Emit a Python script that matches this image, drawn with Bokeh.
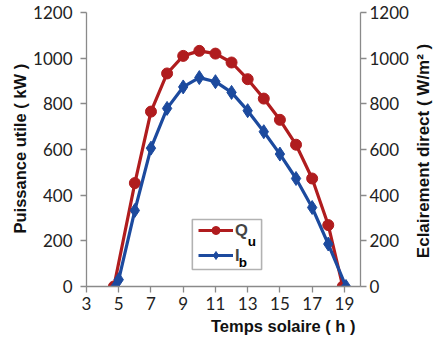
import math
from bokeh.plotting import figure
from bokeh.models import (Range1d, LinearAxis, Legend, LegendItem, Label, FixedTicker,
                          BoxAnnotation, Title)
from bokeh.embed import file_html
from bokeh.resources import INLINE

# Data
hours_q = [4.7, 6, 7, 8, 9, 10, 11, 12, 13, 14, 15, 16, 17, 18, 18.9]
qu = [0, 453, 766, 933, 1010, 1032, 1020, 981, 908, 823, 730, 621, 473, 269, 0]
hours_i = [4.8, 5, 6, 7, 8, 9, 10, 11, 12, 13, 14, 15, 16, 17, 18, 19.1]
ib = [0, 30, 333, 606, 780, 874, 915, 897, 850, 770, 678, 580, 473, 346, 186, 0]
x_ticks = [3, 5, 7, 9, 11, 13, 15, 17, 19]
y_ticks = [0, 200, 400, 600, 800, 1000, 1200]

RED = "#B01C1E"
BLUE = "#1C4A9E"
AXIS = "#8A8A8A"
TICKFONT = "Lato"
TITLEFONT = "Liberation Sans"

W, H = 445, 338
BL, BT = 86, 12
FW, FH = 277, 274
BR, BB = W - BL - FW, H - BT - FH
X0, X1, Y0, Y1 = 3, 20, 0, 1200

p = figure(width=W, height=H, output_backend="svg", toolbar_location=None,
           x_range=Range1d(X0, X1), y_range=Range1d(Y0, Y1),
           min_border_left=BL, min_border_right=BR, min_border_top=BT, min_border_bottom=BB)
p.extra_y_ranges = {"irr": Range1d(Y0, Y1)}
p.outline_line_color = None
p.xgrid.visible = False
p.ygrid.visible = False


def dx(px):  # pixels right of frame left -> data x
    return X0 + px * (X1 - X0) / FW


def dy(py):  # pixels above frame bottom -> data y
    return Y0 + py * (Y1 - Y0) / FH


r_line = p.line(hours_q, qu, line_color=RED, line_width=3.2)
r_pts = p.scatter(hours_q, qu, marker="circle", size=11, fill_color=RED, line_color=RED)
b_line = p.line(hours_i, ib, line_color=BLUE, line_width=3.2)
b_pts = p.scatter(hours_i, ib, marker="diamond", size=14, fill_color=BLUE, line_color=BLUE)

right = LinearAxis(y_range_name="irr")
p.add_layout(right, "right")

for ax in [p.xaxis[0], p.yaxis[0], right]:
    ax.axis_line_color = AXIS
    ax.axis_line_width = 1.3
    ax.major_tick_line_color = AXIS
    ax.major_tick_line_width = 1.3
    ax.major_tick_out = 6
    ax.major_tick_in = 0
    ax.minor_tick_line_color = None
    ax.major_label_text_font = TICKFONT
    ax.major_label_text_font_size = "17px"
    ax.major_label_text_color = "#222222"
    ax.axis_label_text_font = TITLEFONT
    ax.axis_label_text_font_style = "bold"
    ax.axis_label_text_font_size = "17px"
    ax.axis_label_text_color = "#111111"

p.xaxis.ticker = FixedTicker(ticks=x_ticks)
p.yaxis[0].ticker = FixedTicker(ticks=y_ticks)
right.ticker = FixedTicker(ticks=y_ticks)
p.xaxis.major_label_standoff = 4
p.yaxis[0].major_label_standoff = 8

right.axis_label = "\u00a0" * 6 + "Eclairement direct ( W/m² )"
right.major_label_standoff = 3
right.axis_label_standoff = 12
right.axis_label_orientation = math.pi / 2
right.axis_label_align = "start"

left_title = Title(text="Puissance utile ( kW )", align="left", offset=53,
                   vertical_align="middle", standoff=2,
                   text_font=TITLEFONT, text_font_style="bold", text_font_size="16.5px",
                   text_color="#111111")
p.add_layout(left_title, "left")

x_title = Title(text="Temps solaire ( h )", align="right", offset=5,
                vertical_align="middle", standoff=6,
                text_font=TITLEFONT, text_font_style="bold", text_font_size="16.5px",
                text_color="#111111")
p.add_layout(x_title, "below")

# legend frame
p.add_layout(BoxAnnotation(left=dx(107), right=dx(177), top=dy(67), bottom=dy(17),
                           fill_color="white", fill_alpha=1,
                           line_color="black", line_width=1.6))

legend = Legend(items=[LegendItem(label="Q", renderers=[r_line, r_pts]),
                       LegendItem(label="I", renderers=[b_line, b_pts])],
                location=(112, 21))
legend.border_line_color = None
legend.background_fill_alpha = 0
legend.padding = 5
legend.spacing = 5
legend.margin = 0
legend.glyph_width = 35
legend.glyph_height = 20
legend.label_height = 20
legend.label_standoff = 2
legend.label_text_font = TITLEFONT
legend.label_text_font_style = "bold"
legend.label_text_font_size = "16.5px"
p.add_layout(legend, "center")

for txt, sx, sy in [("u", 163, 45), ("b", 154, 24)]:
    p.add_layout(Label(x=dx(sx), y=dy(sy), text=txt,
                       text_font=TITLEFONT, text_font_style="bold", text_font_size="13.5px",
                       text_baseline="alphabetic", text_color="black"))

open("out.html", "w").write(file_html(p, INLINE))
